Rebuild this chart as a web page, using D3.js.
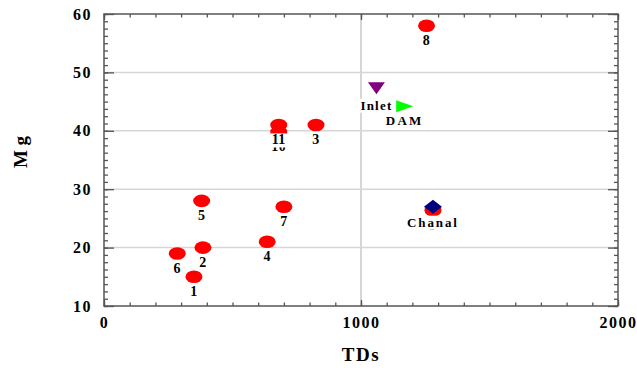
<!DOCTYPE html>
<html><head><meta charset="utf-8">
<script src="https://cdn.jsdelivr.net/npm/d3@7/dist/d3.min.js"></script>
<style>
html,body{margin:0;padding:0;background:#fff;}
svg{display:block;font-family:"Liberation Serif","Times New Roman",serif;}
</style></head>
<body><svg id="c" width="637" height="371"></svg>
<script>
// ---- data ----
const sampleIds = ["1","2","3","4","5","6","7","8","9","10","11"];
const sampleTDs = [350,385,825,635,380,285,700,1255,1280,680,680];
const sampleMg  = [15,20,41,21,28,19,27,58,26.4,39.8,41];

const sourceNames = ["Inlet","DAM","Chanal"];
const sourceTDs   = [1060,1170,1280];
const sourceMg    = [47.3,44.2,27.0];
const sourceShapes = ["triangleDown","triangleRight","diamond"];
const sourceColors = ["#800080","#00ff00","#000080"];

const xTicks = [0,1000,2000];
const yTicks = [10,20,30,40,50,60];
const xLabel = "TDs";
const yLabel = "M g";

// ---- layout ----
const svg = d3.select("#c");
const L = 104, R = 618, T = 14, B = 306;
const x = d3.scaleLinear().domain([0,2000]).range([L,R]);
const y = d3.scaleLinear().domain([10,60]).range([B,T]);
const frameCol = "#555";

// gridlines
const g = svg.append("g");
g.selectAll("line.hg").data(yTicks.slice(1,-1)).join("line")
  .attr("x1",L).attr("x2",R).attr("y1",d=>y(d)).attr("y2",d=>y(d))
  .attr("stroke","#d6d6d6").attr("stroke-width",1.5);
g.selectAll("line.vg").data(xTicks.slice(1,-1)).join("line")
  .attr("y1",T).attr("y2",B).attr("x1",d=>x(d)).attr("x2",d=>x(d))
  .attr("stroke","#d6d6d6").attr("stroke-width",2);

// axes
function styleAxis(sel){
  sel.select(".domain").remove();
  sel.selectAll("line").attr("stroke",frameCol).attr("stroke-width",1.3);
  sel.selectAll("text").attr("font-family","'Liberation Serif',serif")
    .attr("font-weight","bold").attr("font-size",16).attr("letter-spacing",1.5).attr("fill","#000");
}
const xMinor = d3.range(0,2001,100);
const yMinor = d3.range(10,60.01,1.25);

svg.append("g").attr("transform",`translate(0,${B})`)
  .call(d3.axisBottom(x).tickValues(xMinor).tickSize(-3.5).tickFormat(""))
  .call(styleAxis);
svg.append("g").attr("transform",`translate(0,${T})`)
  .call(d3.axisTop(x).tickValues(xMinor).tickSize(-3.5).tickFormat(""))
  .call(styleAxis);
svg.append("g").attr("transform",`translate(0,${B})`)
  .call(d3.axisBottom(x).tickValues(xTicks).tickSize(-6).tickPadding(11).tickFormat(d3.format("d")))
  .call(styleAxis);
svg.append("g").attr("transform",`translate(0,${T})`)
  .call(d3.axisTop(x).tickValues(xTicks).tickSize(-6).tickFormat(""))
  .call(styleAxis);

svg.append("g").attr("transform",`translate(${L},0)`)
  .call(d3.axisLeft(y).tickValues(yMinor).tickSize(-4).tickFormat(""))
  .call(styleAxis);
svg.append("g").attr("transform",`translate(${R},0)`)
  .call(d3.axisRight(y).tickValues(yMinor).tickSize(-4).tickFormat(""))
  .call(styleAxis);
svg.append("g").attr("transform",`translate(${L},0)`)
  .call(d3.axisLeft(y).tickValues(yTicks).tickSize(-10).tickPadding(12).tickFormat(d3.format("d")))
  .call(styleAxis);
svg.append("g").attr("transform",`translate(${R},0)`)
  .call(d3.axisRight(y).tickValues(yTicks).tickSize(-10).tickFormat(""))
  .call(styleAxis);

// frame
svg.append("rect").attr("x",L).attr("y",T).attr("width",R-L).attr("height",B-T)
  .attr("fill","none").attr("stroke",frameCol).attr("stroke-width",1.5);

// sample points
const samples = sampleIds.map((id,i)=>({id,tx:sampleTDs[i],mg:sampleMg[i]}));
const pts = svg.append("g");
pts.selectAll("ellipse").data(samples).join("ellipse")
  .attr("cx",d=>x(d.tx)).attr("cy",d=>y(d.mg)).attr("rx",8.5).attr("ry",6.3)
  .attr("fill","#ff0000");

// source markers
const sources = sourceNames.map((n,i)=>({n,tx:sourceTDs[i],mg:sourceMg[i],shape:sourceShapes[i],col:sourceColors[i]}));
function shapePath(s){
  if(s==="triangleDown") return "M-8.5,-6L8.5,-6L0,6Z";
  if(s==="triangleRight") return "M-8.5,-6L8.5,0L-8.5,6Z";
  return "M0,-7L9,0L0,7L-9,0Z";
}
svg.append("g").selectAll("path").data(sources).join("path")
  .attr("transform",d=>`translate(${x(d.tx)},${y(d.mg)})`)
  .attr("d",d=>shapePath(d.shape)).attr("fill",d=>d.col);

// labels with white background
const lab = svg.append("g");
function addLabel(text,cx,cy,size,spacing){
  const grp = lab.append("g");
  const bg = grp.append("rect").attr("fill","#fff");
  const t = grp.append("text").text(text).attr("x",cx).attr("y",cy)
    .attr("text-anchor","middle").attr("dominant-baseline","central")
    .attr("font-family","'Liberation Serif',serif").attr("font-weight","bold")
    .attr("font-size",size).attr("letter-spacing",spacing).attr("fill","#000");
  const bb = t.node().getBBox();
  bg.attr("x",bb.x-1).attr("y",bb.y+1).attr("width",bb.width+2).attr("height",bb.height-1);
}
// order: 9 and 10 first so that others cover them (as in the reference)
const order = [8,9,0,1,2,3,4,5,6,7,10];
order.forEach(i=>{
  const d = samples[i];
  addLabel(d.id, x(d.tx), y(d.mg)+15, 14, 0.5);
});
addLabel(sources[0].n, x(sources[0].tx), y(sources[0].mg)+17, 13, 1.2);
addLabel(sources[1].n, x(sources[1].tx), y(sources[1].mg)+14, 13, 2.3);
addLabel(sources[2].n, x(sources[2].tx), y(sources[2].mg)+15.5, 13, 1.9);

// axis titles
svg.append("text").text(xLabel).attr("x",(L+R)/2).attr("y",361)
  .attr("text-anchor","middle").attr("font-weight","bold").attr("font-size",19)
  .attr("letter-spacing",1.5).attr("font-family","'Liberation Serif',serif");
svg.append("text").text(yLabel).attr("transform","translate(27,152) rotate(-90)")
  .attr("text-anchor","middle").attr("font-weight","bold").attr("font-size",19)
  .attr("font-family","'Liberation Serif',serif");
</script></body></html>
